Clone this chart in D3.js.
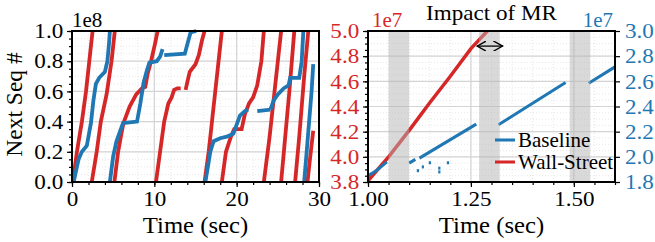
<!DOCTYPE html>
<html><head><meta charset="utf-8">
<script src="https://cdn.jsdelivr.net/npm/d3@7"></script>
<style>body{margin:0;background:#fff} text{font-family:"Liberation Serif","Times New Roman",serif}</style>
</head><body><svg id="c" width="655" height="242"></svg>
<script>
// ---------- DATA ----------
// Left panel: Next Seq # (x1e8) vs time (sec)
const leftXTicks = [0, 10, 20, 30];
const leftYTicks = [0.0, 0.2, 0.4, 0.6, 0.8, 1.0];
const wsRun1 = [[0.1,0],[0.6,0.2],[1.2,0.4],[1.7,0.6],[2.1,0.8],[2.5,1.0]];
const wsRun2 = [[2.4,0],[3.0,0.2],[3.5,0.4],[4.2,0.58],[4.8,0.8],[5.2,1.0]];
const wsRun3 = [[5.15,0],[5.6,0.2],[6.0,0.32],[6.25,0.39],[7.0,0.5],[7.8,0.58],[8.5,0.62],[8.9,0.63],[9.2,0.72],[9.6,0.8],[10.1,0.92],[10.4,1.0]];
const wsRun4 = [[10.2,0],[10.7,0.2],[11.2,0.4],[11.7,0.52],[12.1,0.56],[12.4,0.61],[12.8,0.62],[13.2,0.62]];
const wsRun5 = [[13.8,0.61],[14.0,0.66],[14.3,0.73],[15.0,0.78],[15.4,0.84],[15.8,0.94],[16.1,1.0]];
const wsRun6 = [[16.1,0],[16.6,0.2],[17.0,0.4],[17.4,0.6],[17.8,0.8],[18.2,1.0]];
const wsRun7 = [[18.2,0],[18.7,0.2],[19.3,0.3],[19.7,0.35],[20.6,0.35],[21.0,0.45],[21.5,0.52],[22.0,0.56],[22.5,0.64],[23.0,0.8],[23.3,1.0]];
const wsRun8 = [[23.3,0],[24.0,0.3],[24.5,0.55],[25.0,0.8],[25.4,1.0]];
const wsRun9 = [[25.4,0],[25.9,0.3],[26.4,0.6],[27.0,1.0]];
const wsRun10 = [[27.1,0],[27.6,0.3],[28.2,0.7],[28.7,1.0]];
const wsRun11 = [[28.6,0],[28.9,0.15],[29.3,0.34]];
const blRun1 = [[0.2,0],[0.4,0.05],[0.8,0.15],[1.2,0.2],[1.8,0.24],[2.1,0.33],[2.3,0.39],[2.6,0.54],[2.9,0.65],[3.3,0.69],[4.0,0.73],[4.3,0.8],[4.5,0.92],[4.6,1.0]];
const blRun2 = [[4.6,0],[5.0,0.17],[5.4,0.27],[5.8,0.33],[6.2,0.39],[7.9,0.4],[8.3,0.52],[8.7,0.66],[9.1,0.74],[9.4,0.79],[10.3,0.8],[10.7,0.83],[11.0,0.88]];
const blRun3 = [[11.2,0.84],[13.7,0.85],[14.1,0.93],[14.4,0.99],[15.1,1.0]];
const blRun4 = [[16.2,0],[16.5,0.1],[16.8,0.2],[17.2,0.27],[18.0,0.29],[18.8,0.3],[19.6,0.32],[20.0,0.38],[20.4,0.44],[21.0,0.47],[21.4,0.48]];
const blRun5 = [[22.5,0.47],[24.1,0.48]];
const blRun6 = [[24.1,0.48],[24.5,0.54],[25.0,0.58],[25.7,0.62],[26.3,0.64],[26.5,0.69],[27.6,0.69],[27.9,0.8],[28.1,1.0]];
const blRun7 = [[28.2,0],[28.5,0.2],[28.8,0.4],[29.1,0.6],[29.3,0.78]];
const leftWallStreet = [wsRun1, wsRun2, wsRun3, wsRun4, wsRun5, wsRun6, wsRun7, wsRun8, wsRun9, wsRun10, wsRun11];
const leftBaseline = [blRun1, blRun2, blRun3, blRun4, blRun5, blRun6, blRun7];

// Right panel: Impact of MR (x1e7)
const rightXTicks = [1.00, 1.25, 1.50];
const wsAxisTicks = [3.8, 4.0, 4.2, 4.4, 4.6, 4.8, 5.0];
const blAxisTicks = [1.8, 2.0, 2.2, 2.4, 2.6, 2.8, 3.0];
const mrBands = [[1.05, 1.10], [1.27, 1.32], [1.49, 1.54]];
const wsZoom = [[1.0,3.81],[1.05,4.0],[1.10,4.21],[1.15,4.43],[1.20,4.64],[1.25,4.86],[1.29,5.0]];
const blZoom1 = [[1.0,1.85],[1.02,1.89],[1.046,1.96]];
const blZoom2 = [[1.10,1.95],[1.115,1.98]];
const blZoom3 = [[1.125,1.99],[1.263,2.26]];
const blZoom4 = [[1.317,2.255],[1.48,2.59]];
const blZoom5 = [[1.536,2.585],[1.6,2.715]];
const blZoomDots = [[1.121,1.89],[1.133,1.92],[1.15,1.953],[1.173,1.88],[1.173,1.91],[1.194,1.953]];
const arrowSpan = [1.265, 1.327];
const arrowLevel = 4.88;
const seriesNames = ["Baseline", "Wall-Street"];

// ---------- STYLE ----------
const BLUE = "#1f77b4", RED = "#d62728";
const SERIF = '"Liberation Serif", "Times New Roman", serif';
const svg = d3.select("#c");
const L = {x0: 72, x1: 319, y0: 31, y1: 182};
const R = {x0: 368, x1: 615, y0: 31, y1: 182};
const FS_TICK = 21, FS_LAB = 23.5, STRETCH = 1.1;

function grid(g, xs, ys, xMinor, yMinor, box) {
  xMinor.forEach(v => g.append("line").attr("x1", xs(v)).attr("x2", xs(v)).attr("y1", box.y0).attr("y2", box.y1)
    .attr("stroke", "#e2e2e2").attr("stroke-width", 0.8).attr("stroke-dasharray", "1,2"));
  yMinor.forEach(v => g.append("line").attr("y1", ys(v)).attr("y2", ys(v)).attr("x1", box.x0).attr("x2", box.x1)
    .attr("stroke", "#e2e2e2").attr("stroke-width", 0.8).attr("stroke-dasharray", "1,2"));
}
function majorGrid(g, xs, ys, xt, yt, box) {
  xt.forEach(v => g.append("line").attr("x1", xs(v)).attr("x2", xs(v)).attr("y1", box.y0).attr("y2", box.y1)
    .attr("stroke", "#d4d4d4").attr("stroke-width", 1.2));
  yt.forEach(v => g.append("line").attr("y1", ys(v)).attr("y2", ys(v)).attr("x1", box.x0).attr("x2", box.x1)
    .attr("stroke", "#d4d4d4").attr("stroke-width", 1.2));
}
function styleAxis(g, color) {
  g.attr("font-family", null).attr("font-size", null);
  g.select(".domain").remove();
  g.selectAll(".tick line").attr("stroke", "#000").attr("stroke-width", 1.2);
  g.selectAll("text").style("font-size", FS_TICK + "px").style("font-family", SERIF).attr("fill", color || "#000")
    .attr("transform", `scale(${STRETCH},1)`);
}
function range(a, b, s) { const r = []; for (let v = a; v <= b + 1e-9; v += s) r.push(+v.toFixed(4)); return r; }
function label(g, x, y, txt, opts) {
  opts = opts || {};
  return g.append("text").attr("transform", `translate(${x},${y})` + (opts.rot ? ` rotate(${opts.rot})` : "") + ` scale(${opts.sx || 1},1)`)
    .attr("text-anchor", opts.anchor || "start").style("font-size", (opts.size || FS_LAB) + "px").style("font-family", SERIF)
    .attr("fill", opts.color || "#000").text(txt);
}

// ---------- LEFT PANEL ----------
const lx = d3.scaleLinear().domain([0, 30]).range([L.x0, L.x1]);
const ly = d3.scaleLinear().domain([0, 1]).range([L.y1, L.y0]);
const gL = svg.append("g");
grid(gL, lx, ly, range(0, 30, 2), range(0, 1, 0.05), L);
majorGrid(gL, lx, ly, leftXTicks, leftYTicks, L);
const lineL = d3.line().x(d => lx(d[0])).y(d => ly(d[1]));
svg.append("clipPath").attr("id", "clipL").append("rect")
  .attr("x", L.x0).attr("y", L.y0 - 2).attr("width", L.x1 - L.x0 + 8).attr("height", L.y1 - L.y0 + 4);
const gLd = gL.append("g").attr("clip-path", "url(#clipL)");
leftWallStreet.forEach(s => gLd.append("path").attr("d", lineL(s)).attr("fill", "none").attr("stroke", RED).attr("stroke-width", 3.8));
leftBaseline.forEach(s => gLd.append("path").attr("d", lineL(s)).attr("fill", "none").attr("stroke", BLUE).attr("stroke-width", 3.8));
gL.append("g").attr("transform", `translate(0,${L.y1})`).call(d3.axisBottom(lx).tickValues(range(0, 30, 2)).tickSize(3).tickFormat(""))
  .call(g => styleAxis(g));
gL.append("g").attr("transform", `translate(${L.x0},0)`).call(d3.axisLeft(ly).tickValues(range(0, 1, 0.05)).tickSize(3).tickFormat(""))
  .call(g => styleAxis(g));
gL.append("g").attr("transform", `translate(0,${L.y1})`).call(d3.axisBottom(lx).tickValues(leftXTicks).tickSize(5).tickPadding(4).tickFormat(d3.format("d")))
  .call(g => styleAxis(g));
gL.append("g").attr("transform", `translate(${L.x0},0)`).call(d3.axisLeft(ly).tickValues(leftYTicks).tickSize(5).tickPadding(3).tickFormat(d3.format(".1f")))
  .call(g => styleAxis(g));
gL.append("rect").attr("x", L.x0).attr("y", L.y0).attr("width", L.x1 - L.x0).attr("height", L.y1 - L.y0)
  .attr("fill", "none").attr("stroke", "#000").attr("stroke-width", 2);
label(gL, L.x0, 27, "1e8", {size: FS_TICK});
label(gL, (L.x0 + L.x1) / 2, 233, "Time (sec)", {anchor: "middle", sx: 1.05});
label(gL, 22, (L.y0 + L.y1) / 2 - 2, "Next Seq #", {anchor: "middle", rot: -90});

// ---------- RIGHT PANEL ----------
const rx = d3.scaleLinear().domain([1.0, 1.6]).range([R.x0, R.x1]);
const ryW = d3.scaleLinear().domain([3.8, 5.0]).range([R.y1, R.y0]);
const ryB = d3.scaleLinear().domain([1.8, 3.0]).range([R.y1, R.y0]);
const gR = svg.append("g");
grid(gR, rx, ryW, range(1.0, 1.6, 0.05), range(3.8, 5.0, 0.05), R);
majorGrid(gR, rx, ryW, rightXTicks, wsAxisTicks, R);
svg.append("clipPath").attr("id", "clipR").append("rect")
  .attr("x", R.x0).attr("y", R.y0).attr("width", R.x1 - R.x0).attr("height", R.y1 - R.y0);
const gRd = gR.append("g").attr("clip-path", "url(#clipR)");
const lineW = d3.line().x(d => rx(d[0])).y(d => ryW(d[1]));
const lineB = d3.line().x(d => rx(d[0])).y(d => ryB(d[1]));
gRd.append("path").attr("d", lineW(wsZoom)).attr("fill", "none").attr("stroke", RED).attr("stroke-width", 3.5);
[blZoom1, blZoom2, blZoom3, blZoom4, blZoom5].forEach(s =>
  gRd.append("path").attr("d", lineB(s)).attr("fill", "none").attr("stroke", BLUE).attr("stroke-width", 3));
gRd.selectAll(".dot").data(blZoomDots).enter().append("rect")
  .attr("x", d => rx(d[0]) - 1).attr("y", d => ryB(d[1]) - 1.5).attr("width", 2.2).attr("height", 3).attr("fill", BLUE);
mrBands.forEach(b => gRd.append("rect").attr("x", rx(b[0])).attr("width", rx(b[1]) - rx(b[0]))
  .attr("y", R.y0).attr("height", R.y1 - R.y0).attr("fill", "#b4b4b4").attr("opacity", 0.5));
const defs = svg.append("defs");
["s", "e"].forEach(k => defs.append("marker").attr("id", "ar" + k).attr("viewBox", "0 0 10 10").attr("refX", 9).attr("refY", 5)
  .attr("markerWidth", 8).attr("markerHeight", 8).attr("orient", k === "e" ? "auto" : "auto-start-reverse")
  .append("path").attr("d", "M0,0 L9,5 L0,10").attr("fill", "none").attr("stroke", "#000").attr("stroke-width", 1.3));
gR.append("line").attr("x1", rx(arrowSpan[0])).attr("x2", rx(arrowSpan[1])).attr("y1", ryW(arrowLevel)).attr("y2", ryW(arrowLevel))
  .attr("stroke", "#000").attr("stroke-width", 1.3).attr("marker-start", "url(#ars)").attr("marker-end", "url(#are)");
gR.append("g").attr("transform", `translate(0,${R.y1})`).call(d3.axisBottom(rx).tickValues(range(1.0, 1.6, 0.05)).tickSize(3).tickFormat(""))
  .call(g => styleAxis(g));
gR.append("g").attr("transform", `translate(${R.x0},0)`).call(d3.axisLeft(ryW).tickValues(range(3.8, 5.0, 0.05)).tickSize(3).tickFormat(""))
  .call(g => styleAxis(g));
gR.append("g").attr("transform", `translate(0,${R.y1})`).call(d3.axisBottom(rx).tickValues(rightXTicks).tickSize(5).tickPadding(4).tickFormat(d3.format(".2f")))
  .call(g => styleAxis(g));
gR.append("g").attr("transform", `translate(${R.x0},0)`).call(d3.axisLeft(ryW).tickValues(wsAxisTicks).tickSize(5).tickPadding(3).tickFormat(d3.format(".1f")))
  .call(g => styleAxis(g, RED));
gR.append("g").attr("transform", `translate(${R.x1},0)`).call(d3.axisRight(ryB).tickValues(blAxisTicks).tickSize(5).tickPadding(4).tickFormat(d3.format(".1f")))
  .call(g => styleAxis(g, BLUE));
gR.append("rect").attr("x", R.x0).attr("y", R.y0).attr("width", R.x1 - R.x0).attr("height", R.y1 - R.y0)
  .attr("fill", "none").attr("stroke", "#000").attr("stroke-width", 2);
label(gR, R.x0 + 4, 27, "1e7", {size: FS_TICK, color: RED});
label(gR, R.x1 - 2, 27, "1e7", {size: FS_TICK, color: BLUE, anchor: "end"});
label(gR, (R.x0 + R.x1) / 2, 20, "Impact of MR", {anchor: "middle", size: 22, sx: 1.05});
label(gR, (R.x0 + R.x1) / 2, 233, "Time (sec)", {anchor: "middle", sx: 1.05});
const legColors = [BLUE, RED];
seriesNames.forEach((n, i) => {
  const y = 140 + i * 22;
  gR.append("line").attr("x1", 495).attr("x2", 515).attr("y1", y).attr("y2", y).attr("stroke", legColors[i]).attr("stroke-width", 3);
  label(gR, 518, y + 7, n, {size: 21});
});
</script></body></html>
